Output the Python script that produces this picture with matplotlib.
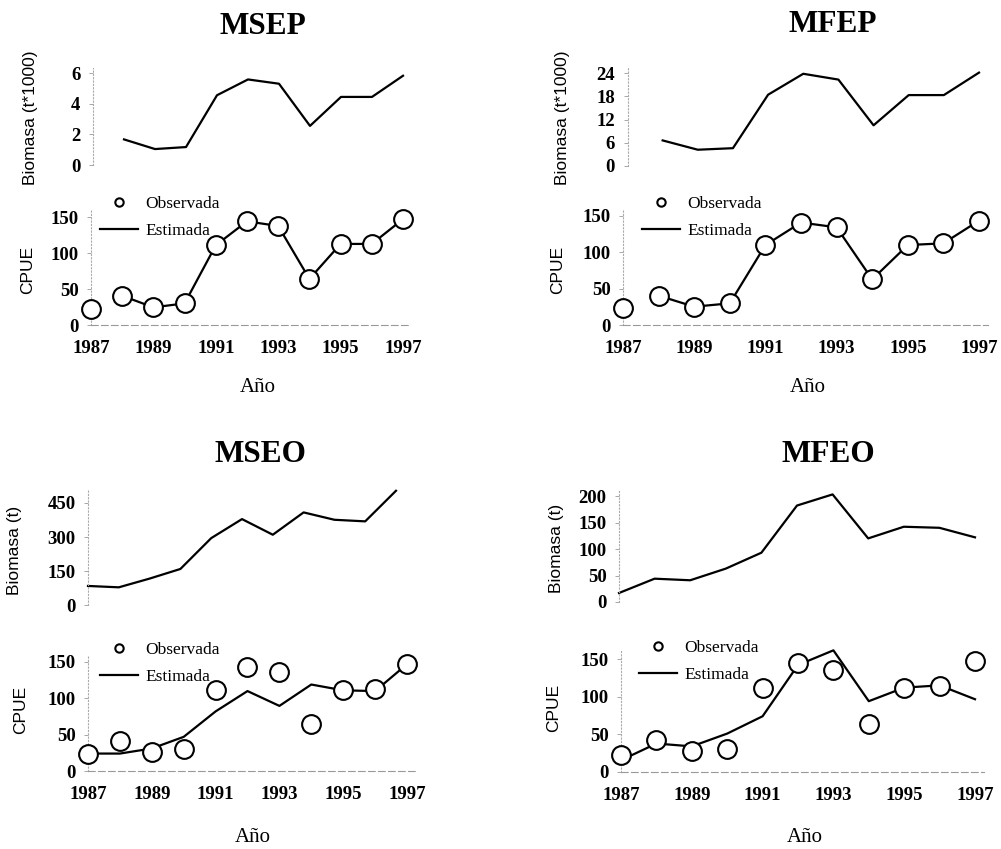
import numpy as np
import matplotlib
matplotlib.use('Agg')
import matplotlib.pyplot as plt
from matplotlib.lines import Line2D

W, H = 1001, 849
nan = np.nan

years = list(range(1987, 1998))
xticks = [1987, 1989, 1991, 1993, 1995, 1997]

# MSEP
msep_biomasa = [nan, 1.67, 1.04, 1.17, 4.55, 5.58, 5.30, 2.55, 4.44, 4.44, 5.82]
msep_obs = [22, 40.6, 24.5, 30, 110.8, 144, 137.5, 64, 112.6, 112.6, 147]
msep_est = [nan, 40.6, 24.5, 30, 110.8, 144, 137.5, 64, 112.6, 112.6, 147]

# MFEP
mfep_biomasa = [nan, 6.6, 4.2, 4.6, 18.4, 23.8, 22.3, 10.5, 18.3, 18.3, 24.1]
mfep_obs = [23, 40.4, 25.2, 29.8, 110, 141, 134.4, 62.8, 110, 112.4, 143.6]
mfep_est = [nan, 40.4, 25.2, 29.8, 110, 141, 134.4, 62.8, 110, 112.4, 143.6]

# MSEO
mseo_biomasa = [84, 78, 116.5, 159, 295, 379, 310, 408.5, 376, 369, 504]
mseo_obs = [22.9, 41, 25.6, 30, 111, 143, 136, 64, 112, 113.4, 146.8]
mseo_est = [24, 24, 31, 47, 82, 110, 89.6, 119, 111, 110, 147]

# MFEO
mfeo_biomasa = [17, 44, 41, 63, 93, 182, 203, 120, 142, 140, 122]
mfeo_obs = [22, 42, 27.6, 30, 112, 144.6, 135.7, 63.6, 112, 114.8, 147.7]
mfeo_est = [15.6, 37.8, 34, 51, 74, 142, 161.5, 94, 112, 115, 96.6]

serif = 'Liberation Serif'
sans = 'Liberation Sans'
XMAX = 1997.25


def rect(x87, x97, y0, yref, ref, ytop):
    ppy = (x97 - x87) / 10.0
    ppu = (y0 - yref) / ref
    left = x87
    right = x97 + (XMAX - 1997) * ppy
    top = y0 - ytop * ppu
    return [left / W, 1 - y0 / H, (right - left) / W, (y0 - top) / H]


def style(ax, yticks, bottom_axis):
    ax.set_facecolor('none')
    for s in ['top', 'right']:
        ax.spines[s].set_visible(False)
    ax.spines['left'].set_color('#aaaaaa')
    ax.spines['left'].set_linestyle((0, (1, 2)))
    ax.spines['left'].set_linewidth(0.8)
    if bottom_axis:
        ax.spines['bottom'].set_color('#999999')
        ax.spines['bottom'].set_linestyle((0, (6, 3)))
        ax.spines['bottom'].set_linewidth(0.8)
        ax.set_xticks(xticks)
        ax.set_xticklabels([str(t) for t in xticks], fontfamily=serif,
                           fontweight='bold', fontsize=13.5)
        ax.tick_params(axis='x', length=0, pad=11)
    else:
        ax.spines['bottom'].set_visible(False)
        ax.set_xticks([])
    ax.set_xlim(1987, XMAX)
    ax.set_yticks(yticks)
    ax.set_yticklabels([str(t) for t in yticks], fontfamily=serif,
                       fontweight='bold', fontsize=13.5)
    ax.tick_params(axis='y', length=3, width=0.6, color='#999999', pad=6)


fig = plt.figure(figsize=(W / 100, H / 100), dpi=100)

panels = [
    dict(title='MSEP', tx=263, ty=26, bio=msep_biomasa, obs=msep_obs, est=msep_est,
         bio_rect=(93, 403, 165, 73, 6, 6.3), cpue_rect=(91, 403, 325, 217, 150, 160),
         bio_ticks=[0, 2, 4, 6], blabel='Biomasa (t*1000)', bl=(31, 118), cl=(28, 270),
         leg=(100, 196), ano=(258, 388)),
    dict(title='MFEP', tx=833, ty=24, bio=mfep_biomasa, obs=mfep_obs, est=mfep_est,
         bio_rect=(627.5, 979, 166, 73, 24, 25.5), cpue_rect=(623, 979, 325, 216, 150, 160),
         bio_ticks=[0, 6, 12, 18, 24], blabel='Biomasa (t*1000)', bl=(562, 118), cl=(558, 270),
         leg=(642, 196), ano=(808, 388)),
    dict(title='MSEO', tx=260, ty=454, bio=mseo_biomasa, obs=mseo_obs, est=mseo_est,
         bio_rect=(88, 396, 605, 503, 450, 510), cpue_rect=(88, 407, 771, 662, 150, 160),
         bio_ticks=[0, 150, 300, 450], blabel='Biomasa (t)', bl=(15, 550), cl=(21, 710),
         leg=(100, 642), ano=(253, 837)),
    dict(title='MFEO', tx=828, ty=454, bio=mfeo_biomasa, obs=mfeo_obs, est=mfeo_est,
         bio_rect=(619, 975, 602, 496, 200, 210), cpue_rect=(621, 975, 772, 659, 150, 160),
         bio_ticks=[0, 50, 100, 150, 200], blabel='Biomasa (t)', bl=(557, 548), cl=(554, 708),
         leg=(639, 640), ano=(805, 837)),
]

for p in panels:
    fig.text(p['tx'] / W, 1 - p['ty'] / H, p['title'], ha='center', va='center',
             fontfamily=serif, fontweight='bold', fontsize=22.5)

    ax1 = fig.add_axes(rect(*p['bio_rect']))
    ax1.plot(years, p['bio'], color='black', lw=1.6, clip_on=False)
    ax1.set_ylim(0, p['bio_rect'][5])
    style(ax1, p['bio_ticks'], False)

    ax2 = fig.add_axes(rect(*p['cpue_rect']))
    ax2.plot(years, p['est'], color='black', lw=1.6, clip_on=False, zorder=2)
    ax2.plot(years, p['obs'], 'o', ms=13.5, mfc='white', mec='black', mew=1.5,
             clip_on=False, zorder=3)
    ax2.set_ylim(0, p['cpue_rect'][5])
    style(ax2, [0, 50, 100, 150], True)

    handles = [Line2D([], [], ls='none', marker='o', ms=6, mfc='white', mec='black', mew=1.5),
               Line2D([], [], color='black', lw=1.6)]
    ax2.legend(handles, ['Observada', 'Estimada'], loc='upper left',
               bbox_to_anchor=(p['leg'][0] / W, 1 - p['leg'][1] / H),
               bbox_transform=fig.transFigure, frameon=False, borderpad=0,
               borderaxespad=0, handlelength=2.2, handletextpad=0.4,
               labelspacing=0.6, prop={'family': serif, 'size': 12.5})

    fig.text(p['bl'][0] / W, 1 - p['bl'][1] / H, p['blabel'], rotation=90,
             ha='center', va='center', fontfamily=sans, fontsize=12.5)
    fig.text(p['cl'][0] / W, 1 - p['cl'][1] / H, 'CPUE', rotation=90,
             ha='center', va='center', fontfamily=sans, fontsize=12.5)
    fig.text(p['ano'][0] / W, 1 - p['ano'][1] / H, 'Año', ha='center', va='center',
             fontfamily=serif, fontsize=15)

fig.savefig('out.png', dpi=100)
